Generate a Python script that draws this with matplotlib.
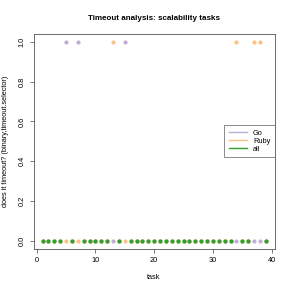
import matplotlib
matplotlib.use("Agg")
import matplotlib.pyplot as plt
from matplotlib.lines import Line2D

plt.rcParams['font.family'] = ['Liberation Sans', 'DejaVu Sans']

# task ids and timeout flags (1 = timed out)
tasks = list(range(1, 40))
go_timeout_tasks = [5, 7, 15]
ruby_timeout_tasks = [13, 34, 37, 38]
go_timeout = [1 if t in go_timeout_tasks else 0 for t in tasks]
ruby_timeout = [1 if t in ruby_timeout_tasks else 0 for t in tasks]

series_names = ["Go", "Ruby", "all"]
series_colors = ["#BEAED4", "#FDC086", "#33A02C"]

fig = plt.figure(figsize=(2.91, 2.91), dpi=100)
ax = fig.add_axes([33.6 / 291, 1 - 248.6 / 291, (274.8 - 33.6) / 291, (248.6 - 34) / 291])

ax.scatter(tasks, go_timeout, s=9, color=series_colors[0], linewidths=0, zorder=3)
ax.scatter(tasks, ruby_timeout, s=9, color=series_colors[1], linewidths=0, zorder=3)
# tasks where every language finished
all_x = [t for t, g, r in zip(tasks, go_timeout, ruby_timeout) if g == 0 and r == 0]
all_y = [0 for _ in all_x]
ax.scatter(all_x, all_y, s=9, color=series_colors[2], linewidths=0, zorder=4)

ax.set_xlim(1 - 0.04 * 38, 39 + 0.04 * 38)
ax.set_ylim(-0.04, 1.04)
ax.set_xticks([0, 10, 20, 30, 40])
ax.set_yticks([0.0, 0.2, 0.4, 0.6, 0.8, 1.0])
ax.set_yticklabels(["0.0", "0.2", "0.4", "0.6", "0.8", "1.0"], rotation=90, va='center')
ax.tick_params(labelsize=5.3, length=3, width=0.5, color='#444444', pad=3)
for sp in ax.spines.values():
    sp.set_linewidth(0.6)
    sp.set_color('#555555')

ax.set_title("Timeout analysis: scalability tasks", fontsize=5.8, fontweight='bold', pad=10)
ax.set_xlabel("task", fontsize=5.3, labelpad=7)
ax.set_ylabel("does it timeout? (binary,timeout.selector)", fontsize=5.3, labelpad=7)

handles = [Line2D([0], [0], color=c, lw=1) for c in series_colors]
leg = ax.legend(handles, series_names, loc='center right', fontsize=5.3, frameon=True,
                fancybox=False, borderaxespad=0, handlelength=2.5, borderpad=0.6,
                labelspacing=0.1, edgecolor='#555555')
leg.get_frame().set_linewidth(0.6)

fig.savefig("out.png", dpi=100)
